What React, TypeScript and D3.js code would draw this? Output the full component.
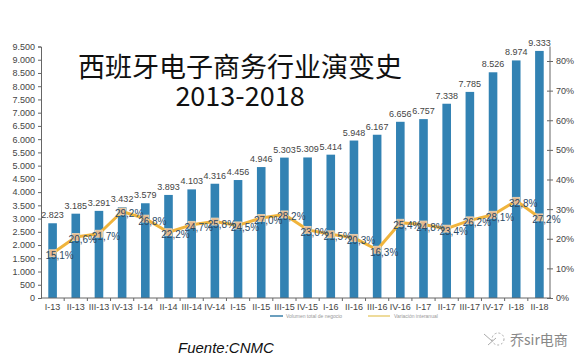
import * as React from 'react'
import { useEffect, useRef } from 'react'
import * as d3 from 'd3'

const categories = [
  'I-13', 'II-13', 'III-13', 'IV-13', 'I-14', 'II-14', 'III-14', 'IV-14',
  'I-15', 'II-15', 'III-15', 'IV-15', 'I-16', 'II-16', 'III-16', 'IV-16',
  'I-17', 'II-17', 'III-17', 'IV-17', 'I-18', 'II-18',
]
const volumen = [
  2823, 3185, 3291, 3432, 3579, 3893, 4103, 4316,
  4456, 4946, 5303, 5309, 5414, 5948, 6167, 6656,
  6757, 7338, 7785, 8526, 8974, 9333,
]
const variacion = [
  15.1, 20.6, 21.7, 29.2, 26.8, 22.2, 24.7, 25.8,
  24.5, 27.0, 28.2, 23.0, 21.5, 20.3, 16.3, 25.4,
  24.8, 23.4, 26.2, 28.1, 32.8, 27.2,
]
const leftTicks = d3.range(0, 9501, 500)
const rightTicks = [0, 10, 20, 30, 40, 50, 60, 70, 80]
const titleLines = ['西班牙电子商务行业演变史', '2013-2018']
const legendLabels = ['Volumen total de negocio', 'Variación interanual']

const fmt = (v: number) => d3.format(',')(v).replace(/,/g, '.')
const fmtPct = (v: number) => v.toFixed(1).replace('.', ',') + '%'

export default function App() {
  const ref = useRef<SVGSVGElement | null>(null)

  useEffect(() => {
    const svg = d3.select(ref.current)
    svg.selectAll('*').remove()

    const x = d3.scaleBand().domain(categories).range([41, 551])
    const y = d3.scaleLinear().domain([0, 9500]).range([298, 46.5])
    const y2 = d3.scaleLinear().domain([0, 80]).range([298, 61])
    const bw = 8.6
    const cx = (c: string) => (x(c) as number) + x.bandwidth() / 2

    const font = 'Liberation Sans, Arial, sans-serif'

    // bars
    svg.append('g')
      .selectAll('rect')
      .data(volumen)
      .enter()
      .append('rect')
      .attr('x', (d, i) => cx(categories[i]) - bw / 2)
      .attr('y', d => y(d))
      .attr('width', bw)
      .attr('height', d => 298 - y(d))
      .attr('fill', '#3282b3')

    svg.append('g')
      .selectAll('text')
      .data(volumen)
      .enter()
      .append('text')
      .attr('x', (d, i) => cx(categories[i]))
      .attr('y', d => y(d) - 5)
      .attr('text-anchor', 'middle')
      .attr('font-family', font)
      .attr('font-size', 9)
      .attr('fill', '#444')
      .text(d => fmt(d))

    // left axis
    const gl = svg.append('g')
      .attr('transform', 'translate(41,0)')
      .call(d3.axisLeft(y).tickValues(leftTicks).tickSize(3).tickFormat(d => fmt(+d)))
    gl.selectAll('text').attr('font-family', font).attr('font-size', 9).attr('fill', '#444')
    gl.selectAll('line,path').attr('stroke', '#666')

    // right axis
    const gr = svg.append('g')
      .attr('transform', 'translate(550,0)')
      .call(d3.axisRight(y2).tickValues(rightTicks).tickSize(3).tickFormat(d => d + '%'))
    gr.select('.domain').attr('d', 'M0,46.5V298')
    gr.selectAll('.tick line').attr('x1', -3)
    gr.selectAll('text').attr('font-family', font).attr('font-size', 9).attr('fill', '#444').attr('x', 6)
    gr.selectAll('line,path').attr('stroke', '#666')

    // bottom axis
    const gb = svg.append('g')
      .attr('transform', 'translate(0,298)')
      .call(d3.axisBottom(x).tickSize(0).tickPadding(6))
    gb.select('.domain').attr('stroke', '#666').attr('d', 'M41,0H551')
    gb.selectAll('text').attr('font-family', font).attr('font-size', 9).attr('fill', '#444')
    svg.append('g')
      .selectAll('line')
      .data(categories.slice(1))
      .enter()
      .append('line')
      .attr('x1', d => x(d) as number)
      .attr('x2', d => x(d) as number)
      .attr('y1', 298)
      .attr('y2', 301)
      .attr('stroke', '#666')

    // line series
    const line = d3.line<number>()
      .x((d, i) => cx(categories[i]))
      .y(d => y2(d))
    svg.append('path')
      .datum(variacion)
      .attr('d', line)
      .attr('fill', 'none')
      .attr('stroke', '#f0b43c')
      .attr('stroke-width', 3)
      .attr('stroke-linejoin', 'round')

    svg.append('g')
      .selectAll('rect')
      .data(variacion)
      .enter()
      .append('rect')
      .attr('x', (d, i) => cx(categories[i]) - 3.5)
      .attr('y', d => y2(d) - 3.5)
      .attr('width', 7)
      .attr('height', 7)
      .attr('fill', '#e4b98f')
      .attr('stroke', '#f3d7b4')
      .attr('stroke-width', 0.8)

    svg.append('g')
      .selectAll('text')
      .data(variacion)
      .enter()
      .append('text')
      .attr('x', (d, i) => cx(categories[i]) + 7)
      .attr('y', d => y2(d) + 6)
      .attr('text-anchor', 'middle')
      .attr('font-family', font)
      .attr('font-size', 10)
      .attr('fill', '#2b4a66')
      .text(d => fmtPct(d))

    // legend
    const lg = svg.append('g').attr('font-family', font).attr('font-size', 5).attr('fill', '#999')
    lg.append('line').attr('x1', 270).attr('x2', 283).attr('y1', 316).attr('y2', 316)
      .attr('stroke', '#3a7fa8').attr('stroke-width', 1.5)
    lg.append('text').attr('x', 286).attr('y', 318).text(legendLabels[0])
    lg.append('line').attr('x1', 368).attr('x2', 390).attr('y1', 316).attr('y2', 316)
      .attr('stroke', '#e8cf7a').attr('stroke-width', 1.5)
    lg.append('text').attr('x', 394).attr('y', 318).text(legendLabels[1])

    // title
    const tg = svg.append('g')
      .attr('font-family', 'Noto Sans CJK SC, sans-serif')
      .attr('font-size', 27)
      .attr('fill', '#111')
      .attr('text-anchor', 'middle')
    tg.append('text').attr('x', 240).attr('y', 77).text(titleLines[0])
    tg.append('text').attr('x', 240).attr('y', 106).text(titleLines[1])

    // source
    svg.append('text')
      .attr('x', 178)
      .attr('y', 353)
      .attr('font-family', font)
      .attr('font-style', 'italic')
      .attr('font-size', 15)
      .attr('fill', '#111')
      .text('Fuente:CNMC')

    // watermark
    const wm = svg.append('g').attr('fill', 'none').attr('stroke', '#aaa').attr('stroke-width', 1)
    wm.append('circle').attr('cx', 498).attr('cy', 339).attr('r', 6).attr('stroke-dasharray', '2,2')
    wm.append('path').attr('d', 'M484,334 L492,341 M488,345 L496,338')
    svg.append('text')
      .attr('x', 510)
      .attr('y', 345)
      .attr('font-family', 'Noto Sans CJK SC, sans-serif')
      .attr('font-size', 14)
      .attr('fill', '#888')
      .text('乔sir电商')
  }, [])

  return (
    <svg
      ref={ref}
      width={588}
      height={364}
      style={{ position: 'absolute', left: 0, top: 0, background: '#fff' }}
    />
  )
}
